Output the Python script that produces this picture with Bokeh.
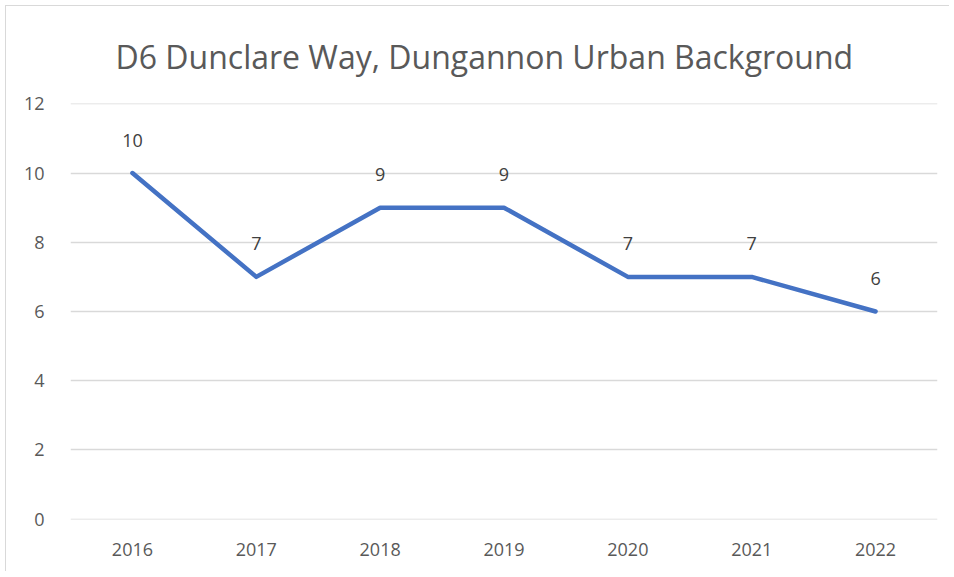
from bokeh.plotting import figure
from bokeh.models import ColumnDataSource, Range1d, FixedTicker, LabelSet
from bokeh.core.properties import value
from bokeh.embed import file_html
from bokeh.resources import INLINE

years = ["2016", "2017", "2018", "2019", "2020", "2021", "2022"]
values = [10, 7, 9, 9, 7, 7, 6]
y_ticks = [0, 2, 4, 6, 8, 10, 12]
title_text = "D6 Dunclare Way, Dungannon Urban Background"

src = ColumnDataSource(dict(x=years, y=values, lab=[str(v) for v in values]))

M = 6
W, H = 944, 566
p = figure(x_range=years, y_range=Range1d(-0.01, 12.01), width=W, height=H,
           output_backend="svg", toolbar_location=None,
           min_border_left=70 - M, min_border_right=W - (937 - M), min_border_top=103 - M,
           min_border_bottom=H - (519 - M))
p.margin = (5, 0, 0, 5)
p.styles = {"border-left": "1px solid #d9d9d9", "border-top": "1px solid #d9d9d9"}

p.title.text = title_text
p.title.align = "left"
p.title.offset = 45
p.title.text_font = "Open Sans"
p.title.text_font_size = "32px"
p.title.text_font_style = "normal"
p.title.text_color = "#595959"
p.title.standoff = 51

p.line("x", "y", source=src, line_color="#4472C4", line_width=4.5, line_join="round", line_cap="round")

labels = LabelSet(x="x", y="y", text="lab", source=src, y_offset=33, text_align="center",
                  text_baseline="middle", text_font=value("Open Sans"), text_font_size="18px",
                  text_color="#404040")
p.add_layout(labels)

p.yaxis.ticker = FixedTicker(ticks=y_ticks)
for ax in (p.xaxis[0], p.yaxis[0]):
    ax.axis_line_color = None
    ax.major_tick_line_color = None
    ax.minor_tick_line_color = None
    ax.major_label_text_font = "Open Sans"
    ax.major_label_text_font_size = "18px"
    ax.major_label_text_color = "#595959"
p.yaxis.major_label_standoff = 20
p.xaxis.major_label_standoff = 17

p.xgrid.grid_line_color = None
p.ygrid.grid_line_color = "#d9d9d9"
p.ygrid.grid_line_width = 1.5
p.outline_line_color = None
p.background_fill_color = "white"
p.border_fill_color = None

open("out.html", "w").write(file_html(p, INLINE))
